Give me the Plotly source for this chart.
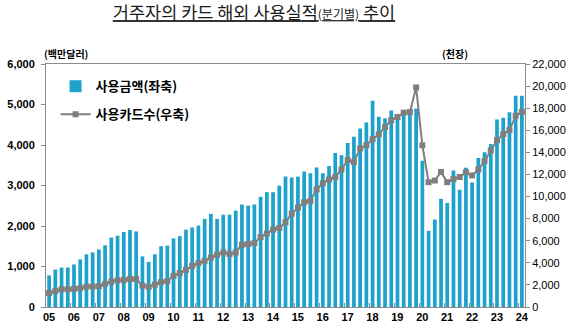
import plotly.graph_objects as go

# ---- data ----
years = ['05', '06', '07', '08', '09', '10', '11', '12', '13', '14',
         '15', '16', '17', '18', '19', '20', '21', '22', '23', '24']

# 사용금액 (백만달러), quarterly 2005Q1 - 2024Q1
amount = [780, 925, 975, 975, 1050, 1175, 1300, 1350, 1420, 1525,
          1715, 1760, 1850, 1900, 1865, 1250, 1115, 1300, 1500, 1515,
          1695, 1750, 1910, 1965, 2010, 2175, 2300, 2175, 2280, 2280,
          2380, 2530, 2505, 2530, 2720, 2835, 2835, 2995, 3220, 3200,
          3220, 3345, 3305, 3445, 3305, 3480, 3800, 3750, 4050, 4205,
          4405, 4555, 5095, 4695, 4660, 4850, 4720, 4815, 4815, 4900,
          3610, 1880, 2160, 2670, 2570, 3370, 2895, 3440, 3075, 3680,
          3820, 4025, 4630, 4670, 4810, 5215, 5215]

# 사용카드수 (천장)
cards = [1270, 1450, 1600, 1600, 1640, 1700, 1850, 1850, 1880, 2090,
         2300, 2420, 2450, 2545, 2515, 1940, 1820, 2030, 2250, 2350,
         2820, 3060, 3360, 3730, 3970, 4180, 4485, 4730, 4940, 4790,
         4940, 5640, 5700, 5790, 6330, 6650, 7000, 7150, 7670, 8450,
         9000, 9485, 9600, 10640, 11200, 11545, 11760, 12455, 13300, 13120,
         14360, 14640, 15200, 15640, 16300, 16910, 17200, 17600, 17650, 19880,
         14640, 11300, 11450, 12230, 11300, 11580, 11770, 12200, 11910, 12450,
         13210, 14170, 15100, 15640, 16010, 17300, 17670]

quarters = [f"{y}.{q}Q" for y in years for q in range(1, 5)][:len(amount)]
n = len(amount)
xs = list(range(n))

BAR = '#1ea2cb'
LINE = '#7f7f7f'
AXIS = '#8c8c8c'
KR = 'Noto Sans CJK KR'
NUM = 'Liberation Sans, Arial, sans-serif'

fig = go.Figure()
fig.add_trace(go.Bar(
    x=xs, y=amount, name='사용금액(좌축)', customdata=quarters,
    marker=dict(color=BAR, line=dict(width=0)), width=0.6,
    yaxis='y', legendgroup='a'))
fig.add_trace(go.Scatter(
    x=xs, y=cards, name='사용카드수(우축)', customdata=quarters,
    mode='lines+markers',
    line=dict(color=LINE, width=2),
    marker=dict(symbol='square', size=6, color=LINE),
    yaxis='y2', legendgroup='b'))

fig.update_layout(
    width=580, height=328,
    margin=dict(l=46, r=55, t=64, b=21),
    paper_bgcolor='white', plot_bgcolor='white',
    font=dict(family=NUM, size=11, color='#000'),
    title=dict(
        text='<u>거주자의 카드 해외 사용실적<span style="font-size:12px">(분기별)</span> 추이</u>',
        x=254 / 580, xanchor='center', y=1 - 13 / 328, yanchor='middle',
        font=dict(family=KR, size=17.5, color='#1a1a1a')),
    showlegend=True,
    legend=dict(x=0.02, y=0.97, xanchor='left', yanchor='top',
                bgcolor='rgba(0,0,0,0)', traceorder='grouped',
                tracegroupgap=8, itemwidth=30,
                font=dict(family=KR, size=13, color='#000', weight='bold')),
    xaxis=dict(range=[-0.5, n - 0.5],
               tickvals=[4 * k - 0.5 for k in range(len(years))],
               ticktext=years, ticks='inside', ticklen=4, tickcolor=AXIS,
               ticklabelshift=3, automargin=False,
               showline=True, linecolor=AXIS, linewidth=1, mirror=True,
               showgrid=False, zeroline=False,
               tickfont=dict(family=NUM, size=11, weight='bold')),
    yaxis=dict(range=[0, 6000], dtick=1000, tickformat=',',
               ticks='outside', ticklen=4, tickcolor=AXIS,
               ticklabelstandoff=4, automargin=False,
               showline=True, linecolor=AXIS, linewidth=1,
               showgrid=False, zeroline=False,
               tickfont=dict(family=NUM, size=11, weight='bold')),
    yaxis2=dict(range=[0, 22000], dtick=2000, tickformat=',',
                overlaying='y', side='right', automargin=False,
                ticks='outside', ticklen=4, tickcolor=AXIS,
                showline=True, linecolor=AXIS, linewidth=1,
                showgrid=False, zeroline=False,
                tickfont=dict(family=NUM, size=11)),
    annotations=[
        dict(text='(백만달러)', xref='paper', yref='paper', x=(66 - 46) / 479,
             y=(307 - 54) / 243, xanchor='center', yanchor='middle',
             showarrow=False, font=dict(family=KR, size=10, weight='bold', color='#000')),
        dict(text='(천장)', xref='paper', yref='paper', x=(455 - 46) / 479,
             y=(307 - 54) / 243, xanchor='center', yanchor='middle',
             showarrow=False, font=dict(family=KR, size=10, weight='bold', color='#000')),
    ],
)

fig.write_html('out.html')
